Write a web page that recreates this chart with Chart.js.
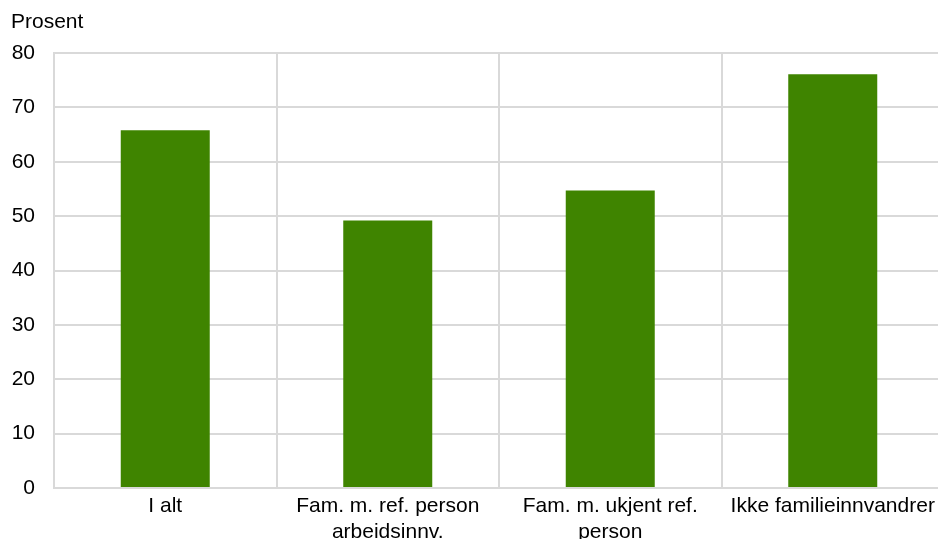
<!DOCTYPE html>
<html>
<head>
<meta charset="utf-8">
<script src="https://cdn.jsdelivr.net/npm/chart.js@4/dist/chart.umd.min.js"></script>
<style>
  html, body { margin: 0; padding: 0; overflow: hidden; background: #fff; }
  #wrap { width: 960px; height: 539px; }
</style>
</head>
<body>
<div id="wrap"><canvas id="chart" width="960" height="539"></canvas></div>
<script>
const categories = [
    "I alt",
    ["Fam. m. ref. person", "arbeidsinnv."],
    ["Fam. m. ukjent ref.", "person"],
    "Ikke familieinnvandrer"
];
const values = [65.8, 49.2, 54.7, 76.1];
const yTicks = [0, 10, 20, 30, 40, 50, 60, 70, 80];
const yTitle = "Prosent";

const gridColor = "#d9d9d9";
const font = { family: "'Liberation Sans', Arial, sans-serif", size: 21 };

// "Prosent" label above the y axis
const yTitlePlugin = {
    id: "yTitle",
    afterDraw(chart) {
        const ctx = chart.ctx;
        ctx.save();
        ctx.font = "21px 'Liberation Sans', Arial, sans-serif";
        ctx.fillStyle = "#000";
        ctx.textBaseline = "alphabetic";
        ctx.fillText(yTitle, 11, 28);
        ctx.restore();
    }
};

new Chart(document.getElementById("chart"), {
    type: "bar",
    data: {
        labels: categories,
        datasets: [{
            data: values,
            backgroundColor: "#3f8400",
            borderWidth: 0,
            barPercentage: 0.4,
            categoryPercentage: 1
        }]
    },
    options: {
        responsive: false,
        animation: false,
        layout: { padding: { top: 53, right: 16, left: 0, bottom: 0 } },
        plugins: { legend: { display: false }, tooltip: { enabled: false } },
        scales: {
            x: {
                grid: { color: gridColor, lineWidth: 2, drawTicks: false, offset: true },
                border: { color: gridColor, width: 2 },
                ticks: { color: "#000", font: font, padding: 6, maxRotation: 0, autoSkip: false },
                afterFit(scale) { scale.height = 51; }
            },
            y: {
                min: 0,
                max: 80,
                afterBuildTicks(scale) { scale.ticks = yTicks.map(v => ({ value: v })); },
                grid: { color: gridColor, lineWidth: 2, drawTicks: false },
                border: { color: gridColor, width: 2 },
                ticks: { color: "#000", font: font, padding: 19 },
                afterFit(scale) { scale.width = 54; }
            }
        }
    },
    plugins: [yTitlePlugin]
});
</script>
</body>
</html>
